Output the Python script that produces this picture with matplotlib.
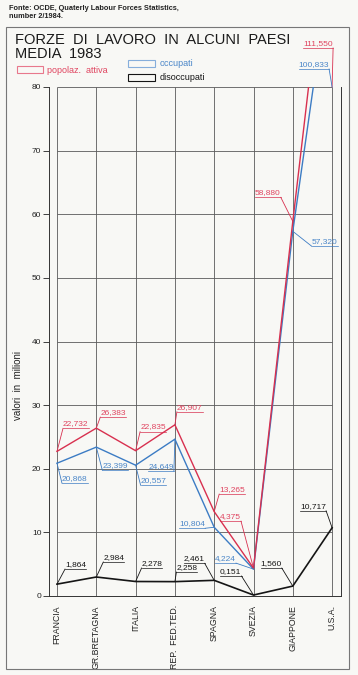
import matplotlib
matplotlib.use('Agg')
import matplotlib.pyplot as plt
from matplotlib.lines import Line2D
from matplotlib.patches import Rectangle
from matplotlib.transforms import IdentityTransform

plt.rcParams['font.family'] = ['Liberation Sans', 'DejaVu Sans']

# ---------------- data ----------------
categories = ['FRANCIA', 'GR.BRETAGNA', 'ITALIA', 'REP.  FED.TED.', 'SPAGNA',
              'SVEZIA', 'GIAPPONE', 'U.S.A.']
popolaz_attiva = [22.732, 26.383, 22.835, 26.907, 13.265, 4.375, 58.880, 111.550]
occupati = [20.868, 23.399, 20.557, 24.649, 10.804, 4.224, 57.320, 100.833]
disoccupati = [1.864, 2.984, 2.278, 2.258, 2.461, 0.151, 1.560, 10.717]
yticks = [0, 10, 20, 30, 40, 50, 60, 70, 80]
series_names = ['popolaz.  attiva', 'occupati', 'disoccupati']

# ---------------- style / layout ----------------
RED = '#d8304f'
RED_T = '#e04560'
BLUE = '#3c7cc4'
BLUE_T = '#4a86c8'
BLACK = '#151515'
GRID = '#5a5a5a'

# label offsets (pixels from point to underline anchor, side of attachment)
red_off = [(6, 23, 'L'), (4, 11, 'L'), (4.5, 19, 'L'), (2, 13, 'L'),
           (5, 17.5, 'L'), (-12.5, 47, 'R'), (-12, 24, 'R'), (1, 39, 'R')]
blue_off = [(5, -20, 'L'), (6, -23, 'L'), (5, -20, 'L'), (-1, -32, 'R'),
            (-9, -1, 'R'), (-17.5, 6, 'R'), (19, -15, 'L'), (-3, 18, 'R')]
black_off = [(8, 15, 'L'), (7, 15, 'L'), (6, 13.5, 'L'), (1.5, 9.5, 'L'),
             (-9.5, 17, 'R'), (-12, 19, 'R'), (-11, 18, 'R'), (-6, 17, 'R')]

W, H = 358, 675
fig = plt.figure(figsize=(W / 100, H / 100), dpi=100)
fig.patch.set_facecolor('#f8f8f5')


def fx(px):
    return px / W


def fy(py):
    return 1 - py / H


CAT0, CATSTEP = 57.0, 39.3
ax = fig.add_axes([fx(49), fy(596), (341 - 49) / W, (596 - 87) / H])
ax.set_facecolor('none')
xs = list(range(len(categories)))
ax.set_xlim((49 - CAT0) / CATSTEP, (341 - CAT0) / CATSTEP)
ax.set_ylim(yticks[0], yticks[-1])

# grid
ax.hlines(yticks[1:], xs[0], xs[-1], color=GRID, lw=0.6, zorder=1)
ax.vlines(xs, yticks[0], yticks[-1], color=GRID, lw=0.6, zorder=1)

for s in ['left', 'right', 'bottom']:
    ax.spines[s].set_color('#333333')
    ax.spines[s].set_linewidth(0.7)
ax.spines['top'].set_visible(False)

ax.set_yticks(yticks)
ax.tick_params(axis='y', direction='out', length=4, width=0.6, labelsize=6,
               pad=1.5, colors='#222222')
ax.set_xticks(xs)
ax.set_xticklabels(categories, rotation=90, fontsize=6.3, va='top')
ax.tick_params(axis='x', length=0, pad=6.5, colors='#222222')

ax.plot(xs, popolaz_attiva, color=RED, lw=1.0, zorder=4)
ax.plot(xs, occupati, color=BLUE, lw=1.0, zorder=3)
ax.plot(xs, disoccupati, color=BLACK, lw=1.2, zorder=3)

# ---------------- value labels ----------------
fig.canvas.draw()
renderer = fig.canvas.get_renderer()
ID = IdentityTransform()
ytop = yticks[-1]


def add_labels(vals, offs, tcol, lcol):
    for i, (v, (dx, dy, side)) in enumerate(zip(vals, offs)):
        px, py = ax.transData.transform((xs[i], min(v, ytop)))
        axp, ayp = px + dx, py + dy
        s = f"{v:.3f}".replace('.', ',')
        t = fig.text(axp, ayp + 1.2, s, transform=ID, fontsize=6, color=tcol,
                     ha='left' if side == 'L' else 'right', va='bottom',
                     zorder=6)
        w = t.get_window_extent(renderer=renderer).width
        x2 = axp + w if side == 'L' else axp - w
        fig.add_artist(Line2D([axp, x2], [ayp, ayp], transform=ID,
                              color=lcol, lw=0.5))
        fig.add_artist(Line2D([px, axp], [py, ayp], transform=ID,
                              color=lcol, lw=0.6))


add_labels(popolaz_attiva, red_off, RED_T, RED)
add_labels(occupati, blue_off, BLUE_T, BLUE)
add_labels(disoccupati, black_off, BLACK, BLACK)

# ---------------- texts, legend, frame ----------------
fig.text(fx(9), fy(10), 'Fonte: OCDE, Quaterly Labour Forces Statistics,',
         fontsize=5.3, weight='bold', va='baseline', color='#222222')
fig.text(fx(9), fy(18), 'number 2/1984.', fontsize=5.3, weight='bold',
         va='baseline', color='#222222')

fig.add_artist(Rectangle((fx(6), fy(669)), (349 - 6) / W, (669 - 27) / H,
                         fill=False, ec='#777777', lw=0.8,
                         transform=fig.transFigure))

fig.text(fx(15), fy(44), 'FORZE  DI  LAVORO  IN  ALCUNI  PAESI',
         fontsize=10.5, va='baseline', color='#1a1a1a')
fig.text(fx(15), fy(58), 'MEDIA  1983', fontsize=10.5, va='baseline',
         color='#1a1a1a')

legend_items = [((17, 66, 26, 7), '#e8788c', RED_T, (47, 73)),
                ((128, 60, 27, 7), '#86aedb', BLUE_T, (160, 66)),
                ((128, 74, 27, 7), BLACK, BLACK, (160, 80))]
for name, ((lx, ly, lw_, lh), ec, tc, (tx, ty)) in zip(series_names, legend_items):
    fig.add_artist(Rectangle((fx(lx), fy(ly + lh)), lw_ / W, lh / H,
                             fill=False, ec=ec, lw=0.8,
                             transform=fig.transFigure))
    fig.text(fx(tx), fy(ty), name, fontsize=6.5, color=tc, va='baseline')

fig.text(fx(18), fy(386), 'valori  in  milioni', rotation=90, ha='center',
         va='center', fontsize=7, color='#222222')

fig.savefig('out.png', dpi=100, facecolor=fig.get_facecolor())
